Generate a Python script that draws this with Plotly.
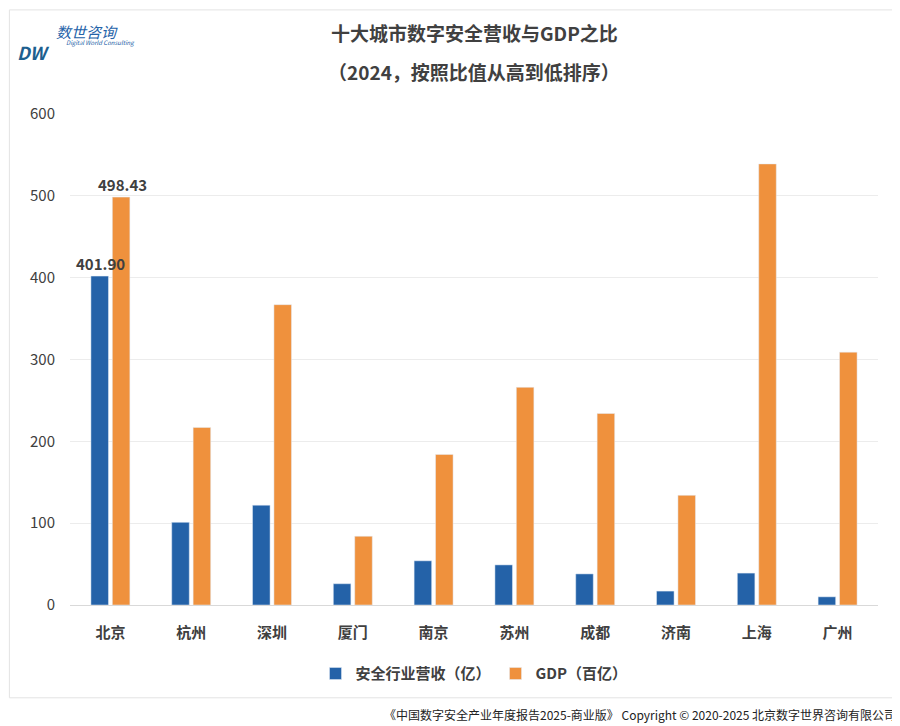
import plotly.graph_objects as go

cities = ["北京", "杭州", "深圳", "厦门", "南京", "苏州", "成都", "济南", "上海", "广州"]
revenue = [401.90, 101, 122, 26, 54, 49, 38, 17, 39, 10]
gdp = [498.43, 217, 367, 84, 184, 266, 234, 134, 539, 309]
y_ticks = [0, 100, 200, 300, 400, 500, 600]

font = "Noto Sans CJK SC"
fig = go.Figure()
fig.add_bar(x=cities, y=revenue, name="<b>安全行业营收（亿）</b>", marker_color="#2462a8")
fig.add_bar(x=cities, y=gdp, name="<b>GDP（百亿）</b>", marker_color="#ef913d")

paper = dict(xref="paper", yref="paper", showarrow=False)
fig.update_layout(
    width=900, height=726,
    font=dict(family=font, color="#404040"),
    margin=dict(l=62, r=30, t=106, b=129, autoexpand=False),
    barmode="group", bargap=0.47, bargroupgap=0.18,
    plot_bgcolor="white", paper_bgcolor="white",
    yaxis=dict(range=[0, 600], tickvals=y_ticks, gridcolor="#ececec", automargin=False,
               tickfont=dict(size=15), showline=False, zeroline=False, ticklabelstandoff=14,
               tickprefix="<b>", ticksuffix="</b>"),
    xaxis=dict(tickfont=dict(size=15), showline=True, linecolor="#d9d9d9", automargin=False,
               tickvals=cities, ticktext=["<b>%s</b>" % c for c in cities], ticklabelstandoff=14),
    legend=dict(orientation="h", x=0.5, xanchor="center", y=-0.14,
                yanchor="middle", font=dict(size=15)),
    shapes=[dict(type="rect", xref="paper", yref="paper", x0=-0.075, x1=1.028,
                 y0=-0.189, y1=1.212, line=dict(color="#e3e3e3", width=1))],
    annotations=[
        dict(text="<b>十大城市数字安全营收与GDP之比</b>", x=0.5, y=1.165, xanchor="center",
             yanchor="middle", font=dict(size=19, color="#404040"), **paper),
        dict(text="<b>（2024，按照比值从高到低排序）</b>", x=0.5, y=1.087, xanchor="center",
             yanchor="middle", font=dict(size=19, color="#404040"), **paper),
        dict(text="<b>401.90</b>", x=0, y=401.9, xref="x", yref="y", xshift=-10, yanchor="bottom",
             showarrow=False, font=dict(size=15, color="#404040")),
        dict(text="<b>498.43</b>", x=0, y=498.43, xref="x", yref="y", xshift=12, yanchor="bottom",
             showarrow=False, font=dict(size=15, color="#404040")),
        dict(text="<i>数世咨询</i>", x=-0.02, y=1.168, xanchor="left", yanchor="middle",
             font=dict(size=15, color="#2462a8"), **paper),
        dict(text="<i>Digital World Consulting</i>", x=-0.008, y=1.146, xanchor="left",
             yanchor="middle", font=dict(size=6, color="#2462a8"), **paper),
        dict(text="<b><i>DW</i></b>", x=-0.045, y=1.127, xanchor="center", yanchor="middle",
             font=dict(size=18, color="#1d5f8f"), **paper),
        dict(text="《中国数字安全产业年度报告2025-商业版》 Copyright © 2020-2025 北京数字世界咨询有限公司",
             x=1.025, y=-0.222, xanchor="right", yanchor="middle",
             font=dict(size=12, color="#222222"), **paper),
    ],
)
fig.update_traces(cliponaxis=False)
fig.write_html("out.html")
